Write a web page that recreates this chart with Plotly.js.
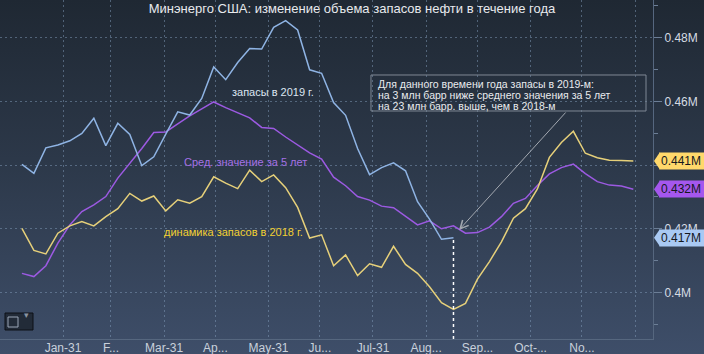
<!DOCTYPE html>
<html>
<head>
<meta charset="utf-8">
<script src="https://cdn.plot.ly/plotly-3.0.1.min.js"></script>
<style>
  html, body { margin:0; padding:0; }
  #chart { width:704px; height:354px; background: linear-gradient(to bottom, #1f2833 0%, #2c3849 45%, #3e4e69 100%); }
</style>
</head>
<body>
<div id="chart"></div>
<script>
// Weekly observation dates (seasonal axis)
const dates = ['2019-01-07','2019-01-14','2019-01-21','2019-01-28','2019-02-04','2019-02-11','2019-02-18','2019-02-25',
  '2019-03-04','2019-03-11','2019-03-18','2019-03-25','2019-04-01','2019-04-08','2019-04-15','2019-04-22','2019-04-29',
  '2019-05-06','2019-05-13','2019-05-20','2019-05-27','2019-06-03','2019-06-10','2019-06-17','2019-06-24',
  '2019-07-01','2019-07-08','2019-07-15','2019-07-22','2019-07-29','2019-08-05','2019-08-12','2019-08-19','2019-08-26',
  '2019-09-02','2019-09-09','2019-09-16','2019-09-23','2019-09-30','2019-10-07','2019-10-14','2019-10-21','2019-10-28',
  '2019-11-04','2019-11-11','2019-11-18','2019-11-25','2019-12-02','2019-12-09','2019-12-16','2019-12-23','2019-12-30'];

// Stocks, shown as "M"
const stocks2019 = [0.4402,0.4374,0.4454,0.4463,0.4476,0.4499,0.4547,0.4461,0.4531,0.4496,0.4398,0.4426,0.4497,0.4567,
  0.4557,0.4609,0.4708,0.4668,0.4722,0.4766,0.4764,0.4832,0.4853,0.4824,0.4699,0.4688,0.4596,0.4556,0.4452,0.4370,
  0.4392,0.4407,0.4382,0.4285,0.4230,0.4167,0.4172];

const avg5y = [0.4060,0.4050,0.4084,0.4155,0.4212,0.4254,0.4275,0.4301,0.4359,0.4405,0.4452,0.4502,0.4504,0.4529,
  0.4554,0.4576,0.4598,0.4580,0.4564,0.4548,0.4518,0.4515,0.4488,0.4463,0.4438,0.4419,0.4362,0.4335,0.4301,0.4290,
  0.4271,0.4266,0.4238,0.4212,0.4225,0.4200,0.4209,0.4186,0.4188,0.4205,0.4238,0.4280,0.4295,0.4336,0.4372,0.4392,
  0.4403,0.4373,0.4348,0.4337,0.4334,0.4324];

const stocks2018 = [0.4201,0.4132,0.4121,0.4186,0.4209,0.4223,0.4209,0.4238,0.4263,0.4311,0.4287,0.4303,0.4256,0.4291,
  0.4280,0.4301,0.4363,0.4343,0.4326,0.4384,0.4348,0.4369,0.4329,0.4267,0.4171,0.4181,0.4084,0.4118,0.4053,0.4090,
  0.4079,0.4145,0.4088,0.4060,0.4018,0.3968,0.3947,0.3966,0.4042,0.4097,0.4159,0.4233,0.4263,0.4325,0.4424,0.4471,
  0.4506,0.4437,0.4423,0.4415,0.4414,0.4413];

const xTickVals = ['2019-01-31','2019-02-28','2019-03-31','2019-04-30','2019-05-31','2019-06-30','2019-07-31',
  '2019-08-31','2019-09-30','2019-10-31','2019-11-30','2019-12-31'];
const xTickText = ['Jan-31','F...','Mar-31','Ap...','May-31','Ju...','Jul-31','Aug...','Sep...','Oct-...','No...',''];
const yTickVals = [0.40,0.42,0.44,0.46,0.48];
const yTickText = ['0.4M','0.42M','0.44M','0.46M','0.48M'];

const titleText = 'Минэнерго США: изменение объема запасов нефти в течение года';
const label2019 = 'запасы в 2019 г.';
const labelAvg = 'Сред. значение за 5 лет';
const label2018 = 'динамика запасов в 2018 г.';
const noteLines = ['Для данного времени года запасы в 2019-м:',
  'на 3 млн барр ниже среднего значения за 5 лет',
  'на 23 млн барр. выше, чем в 2018-м'];

const C2019 = '#8fb4e4', CAVG = '#9c5ae2', C2018 = '#e6d07a';
const FONT = 'Liberation Sans, Arial, sans-serif';

const traces = [
  {x: dates.slice(0, avg5y.length), y: avg5y, type:'scatter', mode:'lines', line:{color:CAVG, width:1.5}, hoverinfo:'skip'},
  {x: dates.slice(0, stocks2018.length), y: stocks2018, type:'scatter', mode:'lines', line:{color:C2018, width:1.5}, hoverinfo:'skip'},
  {x: dates.slice(0, stocks2019.length), y: stocks2019, type:'scatter', mode:'lines', line:{color:C2019, width:1.5}, hoverinfo:'skip'}
];

const last = a => a[a.length-1];
const flags = [
  {v: last(stocks2018), bg:'#ffd86b'},
  {v: last(avg5y), bg:'#a557ee'},
  {v: last(stocks2019), bg:'#a9c9f3'}
];

const lastDate2019 = dates[stocks2019.length - 1];

const shapes = [
  // note box
  {type:'rect', xref:'paper', yref:'paper', x0:0.5681, x1:0.9893, y0:0.6726, y1:0.7788,
   line:{color:'#7f8895', width:1}, fillcolor:'rgba(0,0,0,0)', layer:'above'},
  // current week dotted line
  {type:'line', xref:'x', yref:'paper', x0:lastDate2019, x1:lastDate2019,
   y0:0, y1:0.297, line:{color:'#ffffff', width:1.5, dash:'dot'}, layer:'above'},
  // chart-type icon at bottom left
  {type:'rect', xref:'paper', yref:'paper', x0:5/653, x1:33/653, y0:1-330/339, y1:1-313/339,
   line:{color:'#0c1017', width:1}, fillcolor:'#222b38', layer:'above'},
  {type:'rect', xref:'paper', yref:'paper', x0:8/653, x1:18/653, y0:1-327/339, y1:1-317/339,
   line:{color:'#9aa6b6', width:1}, fillcolor:'rgba(0,0,0,0)', layer:'above'}
];
flags.forEach(f => {
  shapes.push({type:'path', xref:'paper', xsizemode:'pixel', xanchor:1, yref:'y', ysizemode:'pixel', yanchor:f.v,
    path:'M 1,0 L 7,8.8 L 7,-8.8 Z', fillcolor:f.bg, line:{width:0}, layer:'above'});
});

const annotations = [
  {xref:'paper', yref:'paper', x:0.418, y:0.752, text:label2019, showarrow:false, font:{family:FONT, size:11, color:'#dbe5f2'}},
  {xref:'paper', yref:'paper', x:0.3752, y:0.522, text:labelAvg, showarrow:false, font:{family:FONT, size:11, color:'#a571e6'}},
  {xref:'paper', yref:'paper', x:0.3583, y:0.292, text:label2018, showarrow:false, font:{family:FONT, size:11, color:'#f2d032'}},
  // arrow
  {xref:'paper', yref:'paper', x:459/653, y:1-230/339, ax:108, ay:-119, axref:'pixel', ayref:'pixel', text:'',
   showarrow:true, arrowhead:5, arrowsize:1.6, arrowwidth:1, arrowcolor:'#a3a8b0'},
  {xref:'paper', yref:'paper', x:8/653+0.022, y:1-321.5/339, text:'▾', showarrow:false, font:{family:FONT, size:9, color:'#8a94a2'}}
];
noteLines.forEach((t, i) => {
  annotations.push({xref:'paper', yref:'paper', x:376/653, y:[0.7508,0.7185,0.6873][i], xanchor:'left', yanchor:'middle',
    text:t, showarrow:false, font:{family:FONT, size:10.5, color:'#e9ebee'}});
});
flags.forEach(f => {
  annotations.push({xref:'paper', yref:'y', x:1, xshift:6, y:f.v, xanchor:'left', yanchor:'middle',
    text: f.v.toFixed(3) + 'M ', showarrow:false, bgcolor:f.bg, borderpad:1,
    font:{family:FONT, size:12, color:'#15181d'}});
});

const layout = {
  width:704, height:354,
  margin:{l:0, r:51, t:0, b:15, pad:0},
  paper_bgcolor:'rgba(0,0,0,0)', plot_bgcolor:'rgba(0,0,0,0)',
  showlegend:false,
  title:{text:titleText, font:{family:FONT, size:13, color:'#e8eaee'}, x:0.5, xref:'container', xanchor:'center',
    y:1-8/354, yref:'container', yanchor:'middle'},
  xaxis:{type:'date', range:['2018-12-25 05:00','2020-01-10 12:00'], tickmode:'array', tickvals:xTickVals, ticktext:xTickText,
    showgrid:true, gridcolor:'rgba(130,155,185,0.5)', griddash:'2px,3px', gridwidth:1,
    showline:true, linecolor:'#56677f', linewidth:1, ticks:'', zeroline:false, ticklabelstandoff:-2,
    tickfont:{family:FONT, size:12, color:'#c9d1dc'}, fixedrange:true},
  yaxis:{side:'right', range:[0.3854,0.4918], tickmode:'array', tickvals:yTickVals, ticktext:yTickText,
    showgrid:true, gridcolor:'rgba(130,155,185,0.5)', griddash:'2px,3px', gridwidth:1,
    showline:true, linecolor:'#56677f', linewidth:1, ticks:'outside', ticklen:8, tickcolor:'#6c7e96',
    minor:{dtick:0.01, ticks:'outside', ticklen:4, tickcolor:'#6c7e96', showgrid:false},
    zeroline:false, tickfont:{family:FONT, size:12, color:'#d5dbe3'}, fixedrange:true},
  shapes: shapes,
  annotations: annotations
};

Plotly.newPlot('chart', traces, layout, {displayModeBar:false, staticPlot:true});
</script>
</body>
</html>
